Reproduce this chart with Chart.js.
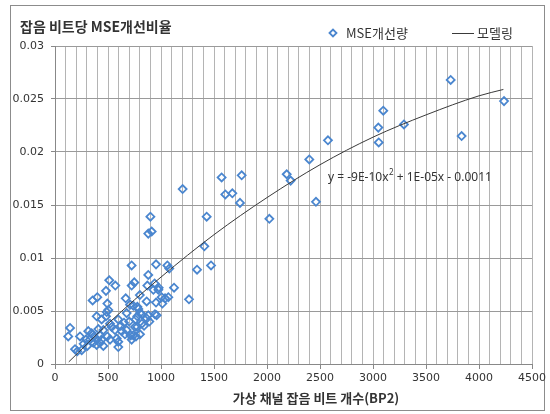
<!DOCTYPE html>
<html>
<head>
<meta charset="utf-8">
<script src="https://cdn.jsdelivr.net/npm/chart.js@4.4.0/dist/chart.umd.min.js"></script>
<style>
  html, body { margin: 0; padding: 0; background: #fff; }
</style>
</head>
<body>
<canvas id="chart" width="550" height="414"></canvas>
<script>
// measured points (BP2 count, MSE improvement per noise bit)
const xVals = [
  3733, 4236, 3097, 3050, 3292, 3054, 3836, 2575, 2399, 2462, 2186, 2223,
  1761, 1572, 1204, 1607, 1673, 1745, 2022, 1431, 900, 880, 912, 1409,
  1472, 1340, 1264, 1123, 953, 1060, 1078, 723,
  512, 569, 481, 723, 748, 880, 940, 978, 871, 355, 399, 667, 800, 494,
  953, 1006, 1038, 1069, 1013, 865, 708, 739, 777, 928, 975,
  488, 676, 802, 818, 776, 943, 393, 481, 880, 959, 786, 503, 865, 890,
  440, 597, 651, 519,
  142, 125, 236, 189, 252, 305, 292, 346, 368, 393, 425, 440, 425, 456,
  409, 535, 494, 519, 582, 597, 597, 566, 629, 676, 714, 723, 739, 755,
  776, 764, 802, 314, 330, 361, 393, 456, 270, 210,
  700, 760, 820, 840, 620, 660
];
const yVals = [
  0.0268, 0.0248, 0.0239, 0.0223, 0.0226, 0.0209, 0.0215, 0.0211, 0.0193, 0.0153, 0.0179, 0.0173,
  0.0178, 0.0176, 0.0165, 0.0160, 0.0161, 0.0152, 0.0137, 0.0139, 0.0139, 0.0123, 0.0125, 0.0111,
  0.0093, 0.0089, 0.0061, 0.0072, 0.0094, 0.0093, 0.0090, 0.0093,
  0.0079, 0.0074, 0.0069, 0.0074, 0.0077, 0.0084, 0.0076, 0.0072, 0.0074, 0.0060, 0.0063, 0.0062, 0.0065, 0.0057,
  0.0058, 0.0063, 0.0062, 0.0063, 0.0057, 0.0059, 0.0056, 0.0055, 0.0054, 0.0070, 0.0070,
  0.0049, 0.0048, 0.0048, 0.0047, 0.0045, 0.0047, 0.0045, 0.0045, 0.0046, 0.0046, 0.0052, 0.0051, 0.0043, 0.0040,
  0.0042, 0.0042, 0.0039, 0.0038,
  0.0034, 0.0026, 0.0026, 0.0014, 0.0013, 0.0017, 0.0023, 0.0029, 0.0026, 0.0023, 0.0027, 0.0023, 0.0020, 0.0032,
  0.0033, 0.0035, 0.0026, 0.0023, 0.0024, 0.0021, 0.0016, 0.0032, 0.0031, 0.0032, 0.0027, 0.0023, 0.0027, 0.0035,
  0.0035, 0.0026, 0.0028, 0.0031, 0.0023, 0.0020, 0.0018, 0.0017, 0.0019, 0.0012,
  0.0040, 0.0042, 0.0038, 0.0036, 0.0036, 0.0028
];

// trend curve
const fitX = [130, 500, 1000, 1500, 2000, 2500, 3000, 3500, 4000, 4230];
const fitY = [0.0002, 0.0038, 0.0082, 0.0122, 0.0157, 0.0188, 0.0214, 0.0235, 0.0253, 0.0259];

const xTickLabels = ["0", "500", "1000", "1500", "2000", "2500", "3000", "3500", "4000", "4500"];
const yTickLabels = ["0", "0.005", "0.01", "0.015", "0.02", "0.025", "0.03"];

const seriesNames = ["MSE개선량", "모델링"];
const chartTitle = "잡음 비트당 MSE개선비율";
const xTitle = "가상 채널 잡음 비트 개수(BP2)";
const equation = ["y = -9E-10x", "2", " + 1E-05x - 0.0011"];

const blue = "#4a86cf";
const lineColor = "#3a3a3a";

const extras = {
  id: "extras",
  beforeDraw: (chart) => {
    const { ctx } = chart;
    ctx.save();
    ctx.fillStyle = "#fff";
    ctx.fillRect(0, 0, chart.width, chart.height);
    ctx.strokeStyle = "#8c8c8c";
    ctx.lineWidth = 1;
    ctx.strokeRect(10.5, 5.5, 534, 405);
    ctx.restore();
  },
  afterDraw: (chart) => {
    const { ctx } = chart;
    ctx.save();
    ctx.fillStyle = "#333";
    ctx.textBaseline = "middle";

    ctx.font = "bold 14px 'Noto Sans CJK KR'";
    ctx.fillText(chartTitle, 20, 27);

    ctx.font = "bold 13px 'Noto Sans CJK KR'";
    ctx.textAlign = "center";
    ctx.fillText(xTitle, 316, 398);
    ctx.textAlign = "left";

    // legend
    ctx.font = "13px 'Noto Sans CJK KR'";
    ctx.strokeStyle = blue;
    ctx.lineWidth = 1.8;
    ctx.beginPath();
    ctx.moveTo(329.5, 33);
    ctx.lineTo(333, 29.5);
    ctx.lineTo(336.5, 33);
    ctx.lineTo(333, 36.5);
    ctx.closePath();
    ctx.stroke();
    ctx.fillText(chart.data.datasets[0].label, 346, 33);

    ctx.strokeStyle = lineColor;
    ctx.lineWidth = 1;
    ctx.beginPath();
    ctx.moveTo(452, 33.5);
    ctx.lineTo(474, 33.5);
    ctx.stroke();
    ctx.fillText(chart.data.datasets[1].label, 477, 33);

    // trend equation
    ctx.font = "12px 'Noto Sans'";
    let x = 328;
    ctx.fillText(equation[0], x, 178);
    x += ctx.measureText(equation[0]).width;
    ctx.font = "8px 'Noto Sans'";
    ctx.fillText(equation[1], x + 0.5, 173);
    x += ctx.measureText(equation[1]).width + 0.5;
    ctx.font = "12px 'Noto Sans'";
    ctx.fillText(equation[2], x, 178);
    ctx.restore();
  },
};

const points = xVals.map((x, i) => ({ x: x, y: yVals[i] }));
const fitPoints = fitX.map((x, i) => ({ x: x, y: fitY[i] }));

const tickFont = { family: "DejaVu Sans", size: 11 };

const chart = new Chart(document.getElementById("chart"), {
  type: "scatter",
  data: {
    datasets: [
      {
        label: seriesNames[0],
        data: points,
        pointStyle: "rectRot",
        pointRadius: 4,
        pointHoverRadius: 4,
        pointBorderWidth: 1.8,
        pointBorderColor: blue,
        pointBackgroundColor: "rgba(255,255,255,0)",
        order: 1,
      },
      {
        label: seriesNames[1],
        data: fitPoints,
        showLine: true,
        borderColor: lineColor,
        borderWidth: 1,
        pointRadius: 0,
        cubicInterpolationMode: "monotone",
        order: 0,
      },
    ],
  },
  options: {
    responsive: false,
    animation: false,
    layout: {
      padding: { left: 0, right: 18, top: 46, bottom: 8 },
    },
    scales: {
      x: {
        type: "linear",
        min: 0,
        max: 4500,
        afterFit: (scale) => {
          scale.height = 42;
        },
        border: { color: "#888" },
        grid: {
          color: "#b4b4b4",
          tickLength: 5,
          tickColor: (c) =>
            c.tick && Math.round(c.tick.value) % 500 === 0 ? "#888" : "rgba(0,0,0,0)",
        },
        ticks: {
          stepSize: 100,
          autoSkip: false,
          maxRotation: 0,
          padding: 3,
          color: "#333",
          font: tickFont,
          callback: (value) => {
            const v = Math.round(value);
            return v % 500 === 0 ? xTickLabels[v / 500] : "";
          },
        },
      },
      y: {
        min: 0,
        max: 0.03,
        afterFit: (scale) => {
          scale.width = 55;
        },
        border: { color: "#888" },
        grid: {
          color: "#9a9a9a",
          tickLength: 4,
          tickColor: "#888",
        },
        ticks: {
          stepSize: 0.005,
          padding: 7,
          color: "#333",
          font: tickFont,
          callback: (value, index) => yTickLabels[index],
        },
      },
    },
    plugins: {
      legend: { display: false },
      tooltip: { enabled: false },
    },
  },
  plugins: [extras],
});
</script>
</body>
</html>
